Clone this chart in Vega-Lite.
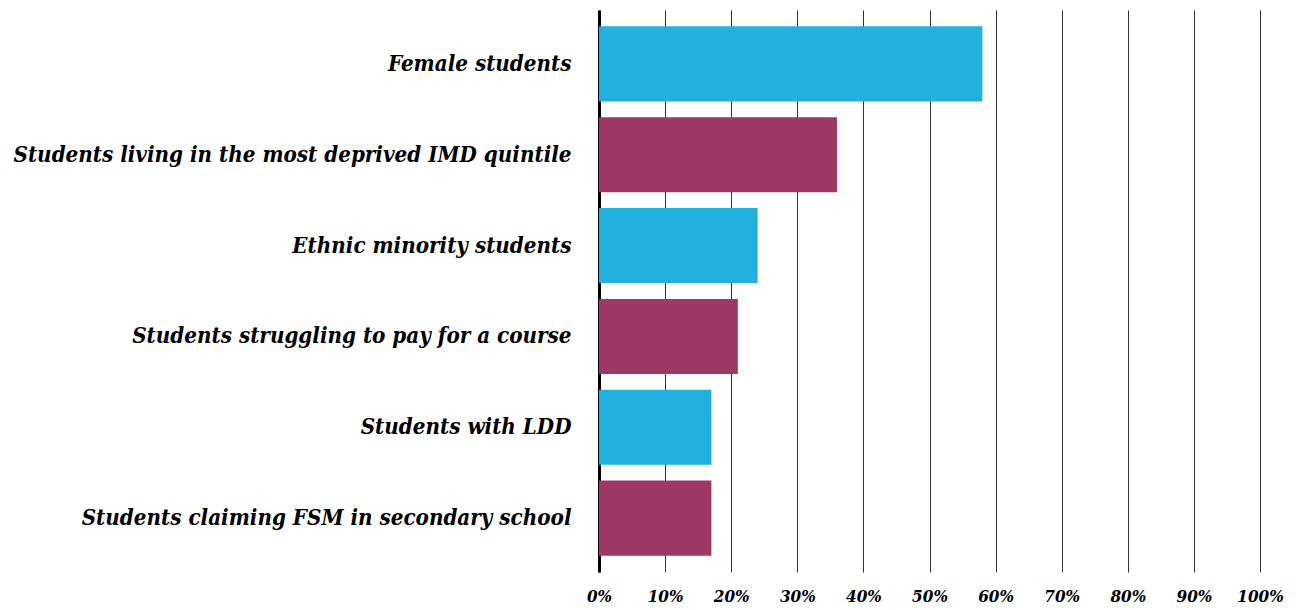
{
  "$schema": "https://vega.github.io/schema/vega-lite/v6.json",
  "autosize": "none",
  "width": 661,
  "height": 562,
  "padding": {"left": 599, "top": 10, "right": 39, "bottom": 38},
  "background": "white",
  "data": {
    "values": [
      {"category": "Female students", "value": 0.58, "group": "a"},
      {"category": "Students living in the most deprived IMD quintile", "value": 0.36, "group": "b"},
      {"category": "Ethnic minority students", "value": 0.24, "group": "a"},
      {"category": "Students struggling to pay for a course", "value": 0.21, "group": "b"},
      {"category": "Students with LDD", "value": 0.17, "group": "a"},
      {"category": "Students claiming FSM in secondary school", "value": 0.17, "group": "b"}
    ]
  },
  "config": {
    "view": {"stroke": null},
    "font": "DejaVu Serif Condensed"
  },
  "mark": {"type": "bar"},
  "encoding": {
    "y": {
      "field": "category",
      "type": "nominal",
      "sort": null,
      "scale": {"paddingInner": 0.174, "paddingOuter": 0.18},
      "axis": {
        "title": null,
        "ticks": false,
        "domain": true,
        "domainColor": "#000000",
        "domainWidth": 3,
        "labelFont": "DejaVu Serif Condensed",
        "labelFontSize": 22.2,
        "labelFontWeight": "bold",
        "labelFontStyle": "italic",
        "labelColor": "#000000",
        "labelPadding": 28,
        "labelLimit": 700
      }
    },
    "x": {
      "field": "value",
      "type": "quantitative",
      "scale": {"domain": [0, 1], "nice": false},
      "axis": {
        "title": null,
        "format": ".0%",
        "values": [0, 0.1, 0.2, 0.3, 0.4, 0.5, 0.6, 0.7, 0.8, 0.9, 1],
        "labelOverlap": false,
        "labelFlush": false,
        "domain": false,
        "ticks": false,
        "grid": true,
        "gridColor": "#333333",
        "gridWidth": 1,
        "labelFont": "DejaVu Serif Condensed",
        "labelFontSize": 17,
        "labelFontWeight": "bold",
        "labelFontStyle": "italic",
        "labelColor": "#000000",
        "labelPadding": 16
      }
    },
    "color": {
      "field": "group",
      "type": "nominal",
      "scale": {"domain": ["a", "b"], "range": ["#22B0DD", "#9E3865"]},
      "legend": null
    }
  }
}
